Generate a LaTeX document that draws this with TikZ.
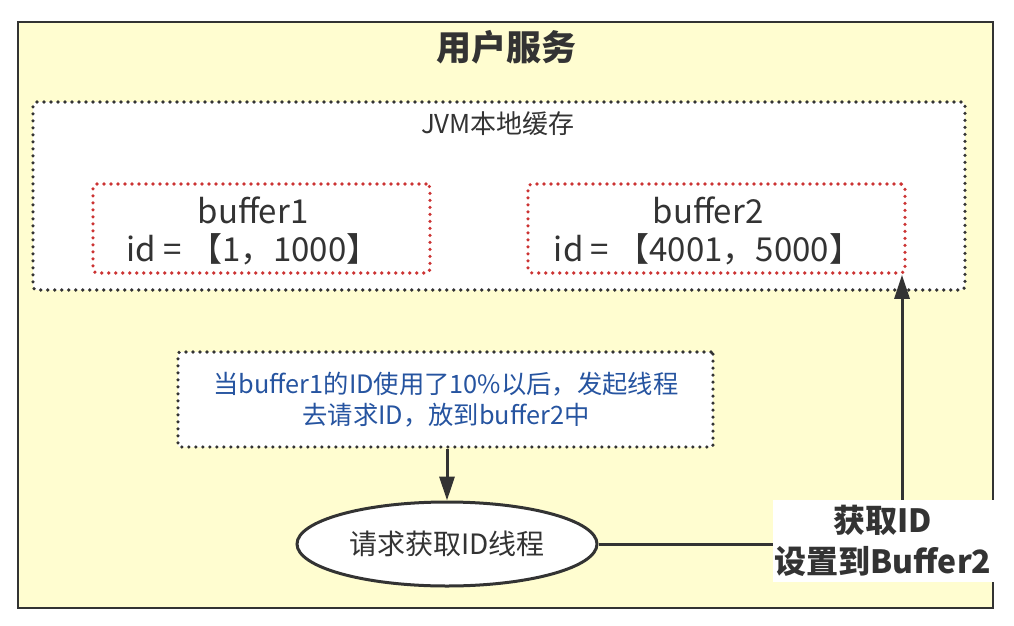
\documentclass[tikz,border=0pt]{standalone}
\usepackage{fontspec}
\setmainfont{Noto Sans CJK SC}
\usetikzlibrary{shapes.geometric,arrows.meta}
\definecolor{bg}{RGB}{255,253,208}
\definecolor{ink}{RGB}{51,51,51}
\definecolor{dotred}{RGB}{204,51,51}
\definecolor{noteblue}{RGB}{38,84,160}
\tikzset{
  svcbox/.style={draw=ink, line width=2.5pt, fill=bg, inner sep=0pt},
  dotbox/.style={draw=ink, line width=3.6pt, dash pattern=on 0pt off 7pt, line cap=round, fill=white, rounded corners=4pt, inner sep=0pt},
  redbox/.style={draw=dotred, line width=3.6pt, dash pattern=on 0pt off 7pt, line cap=round, fill=white, rounded corners=4pt, inner sep=0pt},
  txt/.style={text=ink, inner sep=0pt, align=center},
  conn/.style={draw=ink, line width=3pt},
  arr/.style={conn, -{Triangle[length=24pt, width=15pt]}},
}
\begin{document}
\begin{tikzpicture}[x=1pt,y=-1pt]
\useasboundingbox (0,0) rectangle (1014,626);
\node[svcbox, minimum width=975pt, minimum height=586pt] (svc) at (505.5,315) {};
\node[txt, font=\fontsize{35pt}{38pt}\selectfont\bfseries] (title) at (506,47) {用户服务};
\node[dotbox, minimum width=932pt, minimum height=188pt] (jvm) at (499,196) {};
\node[txt, font=\fontsize{26pt}{30pt}\selectfont] (jvml) at (498,124) {JVM本地缓存};
\node[redbox, minimum width=337pt, minimum height=89pt] (buf1) at (261.5,228.5) {};
\node[txt, font=\fontsize{33pt}{38pt}\selectfont] (buf1t) at (253,231) {buffer1\\id = 【1，1000】};
\node[redbox, minimum width=377pt, minimum height=89pt] (buf2) at (716.5,228.5) {};
\node[txt, font=\fontsize{33pt}{38pt}\selectfont] (buf2t) at (708,231) {buffer2\\id = 【4001，5000】};
\node[dotbox, rounded corners=2pt, minimum width=535pt, minimum height=95pt] (note) at (445.5,399.5) {};
\node[txt, text=noteblue, font=\fontsize{25.3pt}{31pt}\selectfont] (notet) at (446,400) {当buffer1的ID使用了10\%以后，发起线程\\去请求ID，放到buffer2中};
\node[ellipse, draw=ink, line width=3pt, fill=white, minimum width=300pt, minimum height=84pt, inner sep=0pt, text=ink, font=\fontsize{28pt}{32pt}\selectfont] (ell) at (447,544) {请求获取ID线程};
\coordinate (c) at (902,544);
\draw[arr] (ell.north |- note.south) -- (ell.north);
\draw[conn] (ell.east) -- (c);
\draw[arr] (c) -- (c |- buf2.south);
\node[txt, fill=white, minimum width=221pt, minimum height=82pt, font=\fontsize{32pt}{41pt}\selectfont\bfseries] (lbl) at (883,541) {获取ID\\设置到Buffer2};
\end{tikzpicture}
\end{document}
